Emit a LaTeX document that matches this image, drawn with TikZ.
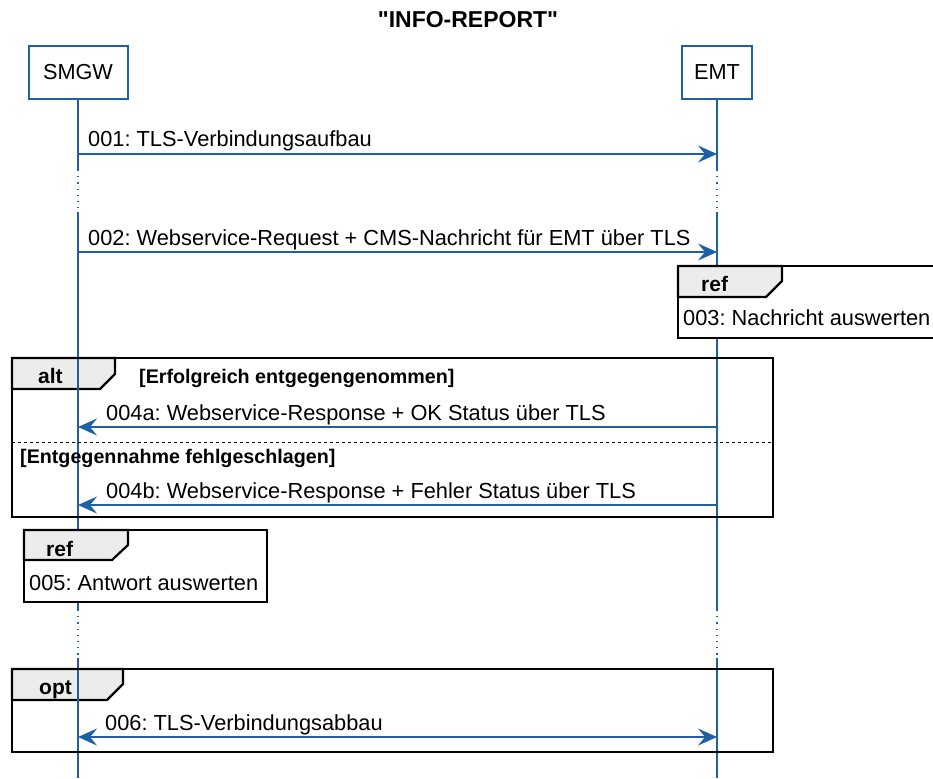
\documentclass[tikz,border=0pt]{standalone}
\usepackage{fontspec}
\setmainfont{Liberation Sans}
\newfontfamily\plainsans{Liberation Sans}
\usepackage{tikz}
\usetikzlibrary{arrows.meta}
\usetikzlibrary{positioning}
\frenchspacing

\definecolor{lifeblue}{RGB}{30,96,165}
\definecolor{tabgray}{RGB}{236,236,236}

\tikzset{
    life/.style={lifeblue, line width=1.2pt},
    lifegap/.style={lifeblue, line width=1.2pt, dash pattern=on 1.2pt off 5pt},
    msg/.style={lifeblue, line width=1.5pt, -{Stealth[length=19pt,width=17pt,inset=7pt]}},
    msgboth/.style={lifeblue, line width=1.5pt, {Stealth[length=19pt,width=17pt,inset=7pt]}-{Stealth[length=19pt,width=17pt,inset=7pt]}},
    actor/.style={draw=lifeblue, line width=2pt, fill=white, inner sep=0pt, minimum height=53pt, font=\fontsize{21.7}{26}\selectfont},
    fragment/.style={draw=black, line width=2.7pt},
    refbox/.style={draw=black, line width=2.2pt, fill=white},
    tab/.style={draw=black, line width=2.2pt, fill=tabgray},
    msgtext/.style={anchor=base west, inner sep=0pt, font=\fontsize{21.8}{26}\selectfont},
    guard/.style={anchor=base west, inner sep=0pt, font=\bfseries\fontsize{19.7}{24}\selectfont},
    kw/.style={anchor=base west, inner sep=0pt, font=\bfseries\fontsize{21}{25}\selectfont}
}

\begin{document}
\begin{tikzpicture}[x=1pt,y=-1pt]
        \useasboundingbox (0,0) rectangle (933,778);

        \node[anchor=base, inner sep=0pt, font=\plainsans\bfseries\fontsize{23}{28}\selectfont] (title) at (468,28) {"INFO-REPORT"};

        % participants
        \node[actor, minimum width=99pt] (SMGW) at (78,72.5) {SMGW};
        \node[actor, minimum width=70pt] (EMT) at (717,72.5) {EMT};

        % points on the lifelines
        \foreach \who/\x in {S/78, E/717}
        {
            \coordinate (\who a) at (\x,170);
            \coordinate (\who b) at (\x,212);
            \coordinate (\who c) at (\x,610);
            \coordinate (\who d) at (\x,658);
            \coordinate (\who e) at (\x,778);
        }
        \foreach \m/\y in {1/154, 2/252, 4/427, 5/505, 6/737}
        {
            \coordinate (S\m) at (78,\y);
            \coordinate (E\m) at (717,\y);
        }

        % tabs of alt and opt lie below the lifelines
        \draw[tab] (12,358) -- (115,358) -- (115,374) -- (100,389) -- (12,389) -- cycle;
        \draw[tab] (12,669) -- (123,669) -- (123,684) -- (107,700) -- (12,700) -- cycle;

        % lifelines
        \draw[life] (SMGW.south) -- (Sa);
        \draw[lifegap] (Sa) -- (Sb);
        \draw[life] (Sb) -- (Sc);
        \draw[lifegap] (Sc) -- (Sd);
        \draw[life] (Sd) -- (Se);
        \draw[life] (EMT.south) -- (Ea);
        \draw[lifegap] (Ea) -- (Eb);
        \draw[life] (Eb) -- (Ec);
        \draw[lifegap] (Ec) -- (Ed);
        \draw[life] (Ed) -- (Ee);

        % ref 003
        \draw[refbox] (678,266) rectangle (945,338);
        \draw[tab] (678,266) -- (782,266) -- (782,281) -- (766,297) -- (678,297) -- cycle;
        \node[kw] (ref3) at (701,291) {ref};
        \node[msgtext] (t003) at (683,325) {003: Nachricht auswerten};

        % ref 005
        \draw[refbox] (24,530) rectangle (267,602);
        \draw[tab] (24,530) -- (128,530) -- (128,545) -- (112,560) -- (24,560) -- cycle;
        \node[kw] (ref5) at (46,556) {ref};
        \node[msgtext] (t005) at (29,590) {005: Antwort auswerten};

        % alt
        \draw[fragment] (12,358) rectangle (773,517);
        \draw[line width=1pt, dash pattern=on 3pt off 3pt] (12,442) -- (773,442);
        \node[kw] (alt) at (38,383) {alt};
        \node[guard] (g1) at (139,383) {[Erfolgreich entgegengenommen]};
        \node[guard] (g2) at (20,463) {[Entgegennahme fehlgeschlagen]};

        % opt
        \draw[fragment] (12,669) rectangle (773,752);
        \node[kw] (opt) at (39,694) {opt};

        % messages
        \draw[msg] (S1) -- (E1);
        \node[msgtext] (t001) at ([xshift=10pt,yshift=7pt]S1) {001: TLS-Verbindungsaufbau};
        \draw[msg] (S2) -- (E2);
        \node[msgtext] (t002) at ([xshift=10pt,yshift=7pt]S2) {002: Webservice-Request + CMS-Nachricht für EMT über TLS};
        \draw[msg] (E4) -- (S4);
        \node[msgtext] (t004a) at ([xshift=28pt,yshift=7pt]S4) {004a: Webservice-Response + OK Status über TLS};
        \draw[msg] (E5) -- (S5);
        \node[msgtext] (t004b) at ([xshift=28pt,yshift=7pt]S5) {004b: Webservice-Response + Fehler Status über TLS};
        \draw[msgboth] (S6) -- (E6);
        \node[msgtext] (t006) at ([xshift=27pt,yshift=7pt]S6) {006: TLS-Verbindungsabbau};
\end{tikzpicture}
\end{document}
